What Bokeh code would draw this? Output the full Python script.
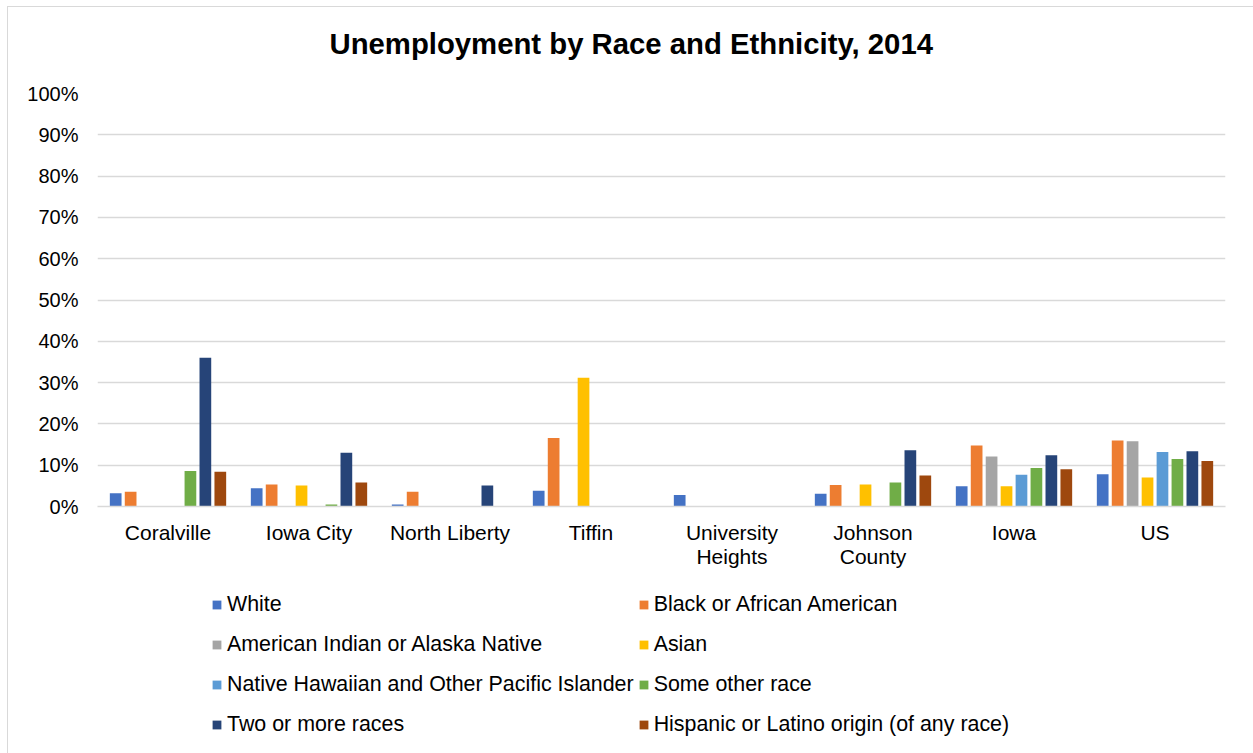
from bokeh.plotting import figure
from bokeh.models import (ColumnDataSource, FactorRange, Range1d, NumeralTickFormatter, Legend,
                          LegendItem, FixedTicker, CategoricalAxis, CustomJSTickFormatter, Label)
from bokeh.layouts import column
from bokeh.transform import dodge
from bokeh.embed import file_html
from bokeh.resources import INLINE

title_text = "Unemployment by Race and Ethnicity, 2014"
places = ["Coralville", "Iowa City", "North Liberty", "Tiffin", "University Heights", "Johnson County", "Iowa", "US"]
label_line1 = ["Coralville", "Iowa City", "North Liberty", "Tiffin", "University", "Johnson", "Iowa", "US"]
label_line2 = ["", "", "", "", "Heights", "County", "", ""]

series_names = ["White", "Black or African American", "American Indian or Alaska Native", "Asian",
                "Native Hawaiian and Other Pacific Islander", "Some other race", "Two or more races",
                "Hispanic or Latino origin (of any race)"]
colors = ["#4472C4", "#ED7D31", "#A5A5A5", "#FFC000", "#5B9BD5", "#70AD47", "#264478", "#9E480E"]

white = [0.032, 0.044, 0.005, 0.038, 0.028, 0.031, 0.049, 0.078]
black = [0.036, 0.053, 0.036, 0.166, 0.0, 0.052, 0.148, 0.160]
am_indian = [0.0, 0.0, 0.0, 0.0, 0.0, 0.0, 0.121, 0.158]
asian = [0.0, 0.051, 0.0, 0.312, 0.0, 0.053, 0.049, 0.070]
hawaiian = [0.0, 0.0, 0.0, 0.0, 0.0, 0.0, 0.077, 0.132]
other = [0.086, 0.005, 0.0, 0.0, 0.0, 0.058, 0.093, 0.115]
two_more = [0.360, 0.130, 0.051, 0.0, 0.0, 0.136, 0.124, 0.134]
hispanic = [0.084, 0.058, 0.0, 0.0, 0.0, 0.075, 0.090, 0.110]

series = [white, black, am_indian, asian, hawaiian, other, two_more, hispanic]
keys = ["s%d" % i for i in range(8)]

data = {"place": places}
for k, s in zip(keys, series):
    data[k] = s
source = ColumnDataSource(data)

FONT = "Liberation Sans"
W = 1245


def bare(fig):
    fig.grid.visible = False
    fig.outline_line_color = None
    return fig


# ---- title strip ----
tp = bare(figure(width=W, height=74, output_backend="svg", toolbar_location=None,
                 x_range=Range1d(0, 1), y_range=Range1d(0, 1),
                 min_border_left=89, min_border_right=28, min_border_top=0, min_border_bottom=0,
                 x_axis_location=None, y_axis_location=None))
tp.add_layout(Label(x=232, y=38, x_units="screen", y_units="screen", text=title_text,
                    text_font=FONT, text_font_size="29.3px", text_font_style="bold",
                    text_color="#000000", text_align="left", text_baseline="alphabetic"))

# ---- main chart ----
p = figure(x_range=FactorRange(*places, range_padding=0), y_range=Range1d(0, 1.0),
           width=W, height=489, output_backend="svg", toolbar_location=None,
           min_border_left=89, min_border_right=28, min_border_top=12, min_border_bottom=10,
           x_axis_location=None)

step = 0.106
bw = 0.083
for i, k in enumerate(keys):
    p.vbar(x=dodge("place", (i - 3.5) * step, range=p.x_range), top=k, width=bw,
           source=source, fill_color=colors[i], line_color=None)

p.outline_line_color = None
p.xgrid.grid_line_color = None
p.ygrid.grid_line_color = "#d9d9d9"
p.ygrid.grid_line_width = 1.5

p.yaxis.ticker = FixedTicker(ticks=[i / 10 for i in range(11)])
p.yaxis.formatter = NumeralTickFormatter(format="0%")
p.yaxis.axis_line_color = None
p.yaxis.major_tick_line_color = None
p.yaxis.minor_tick_line_color = None
p.yaxis.major_label_standoff = 13
p.yaxis.major_label_text_font = FONT
p.yaxis.major_label_text_font_size = "20px"
p.yaxis.major_label_text_color = "#000000"


def make_axis(labels, line_color, standoff):
    fmt = CustomJSTickFormatter(args=dict(keys=places, labels=labels),
                                code="const i = keys.indexOf(tick); return i >= 0 ? labels[i] : '';")
    return CategoricalAxis(axis_line_color=line_color, axis_line_width=1.5,
                           major_tick_line_color=None, minor_tick_line_color=None,
                           major_label_standoff=standoff, formatter=fmt,
                           major_label_text_font=FONT, major_label_text_font_size="21px",
                           major_label_text_color="#000000")


p.add_layout(make_axis(label_line1, "#d9d9d9", 8), "below")
p.add_layout(make_axis(label_line2, None, -8), "below")

# ---- legend strip: same series drawn out of view, legend inside the frame ----
lg = bare(figure(width=W, height=183, output_backend="svg", toolbar_location=None,
                 x_range=FactorRange(*places), y_range=Range1d(5, 6),
                 min_border_left=89, min_border_right=28, min_border_top=0, min_border_bottom=0,
                 x_axis_location=None, y_axis_location=None))
proxies = [lg.vbar(x="place", top=k, width=0.5, source=source, fill_color=c, line_color=None)
           for k, c in zip(keys, colors)]

items = [LegendItem(label=n, renderers=[r]) for n, r in zip(series_names, proxies)]
legend = Legend(items=items, orientation="horizontal", ncols=2, location=(114, 11),
                glyph_width=11, glyph_height=11, label_standoff=5, spacing=4,
                label_text_font=FONT, label_text_font_size="21.4px", label_text_color="#000000",
                padding=0, margin=0, border_line_color=None, background_fill_alpha=0,
                label_height=36)
lg.add_layout(legend, "center")

layout = column(tp, p, lg, spacing=0)
layout.styles = {"margin-left": "7px", "margin-top": "6px",
                 "border-left": "1px solid #d9d9d9", "border-top": "1px solid #d9d9d9"}

open("out.html", "w").write(file_html(layout, INLINE))
